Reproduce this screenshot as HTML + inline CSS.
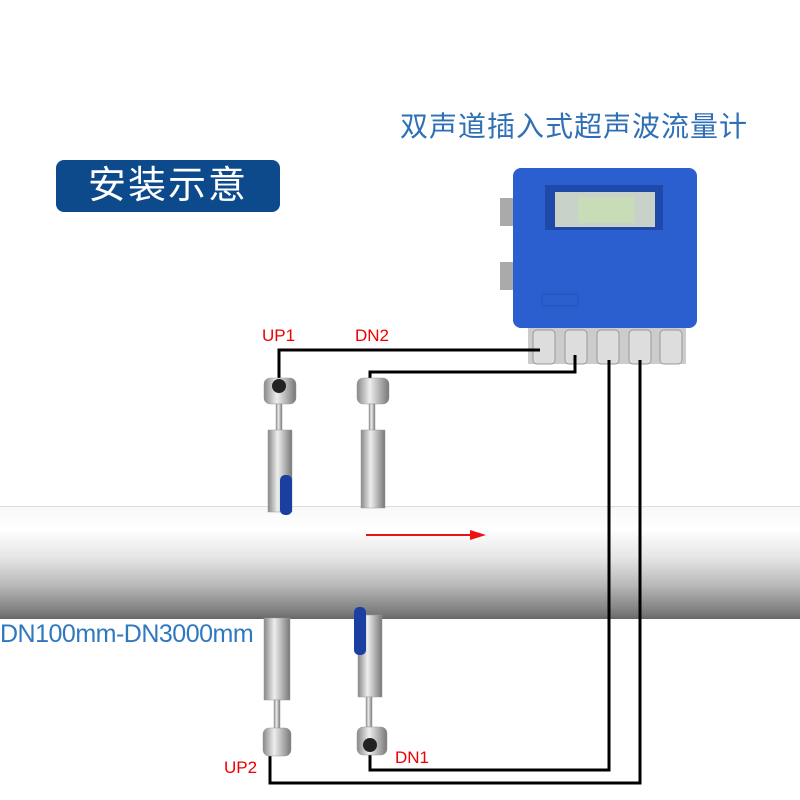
<!DOCTYPE html>
<html><head><meta charset="utf-8"><style>
body{margin:0;width:800px;height:800px;background:#fff;overflow:hidden;position:relative;font-family:"Liberation Sans","Noto Sans CJK SC",sans-serif}
.a{position:absolute}
</style></head><body>
<div class="a" style="left:400px;top:105px;font-size:28px;color:#2f6fb5;letter-spacing:1px">双声道插入式超声波流量计</div>
<div class="a" style="left:56px;top:160px;width:224px;height:52px;background:#0d4a8c;border-radius:8px;color:#fff;font-size:38px;line-height:52px;text-align:center;letter-spacing:2px">安装示意</div>
<div class="a" style="left:0;top:506px;width:800px;height:112px;background:linear-gradient(#f8f8f8 0%,#fff 20%,#e6e6e6 45%,#b8b8b8 70%,#7a7a7a 95%,#666 100%);border-top:1px solid #ddd"></div>
<div class="a" style="left:0;top:620px;font-size:25px;color:#2f78c0;letter-spacing:-0.5px">DN100mm-DN3000mm</div>
<svg class="a" style="left:0;top:0" width="800" height="800">
<defs><linearGradient id="m" x1="0" x2="1"><stop offset="0" stop-color="#888"/><stop offset=".4" stop-color="#eee"/><stop offset="1" stop-color="#777"/></linearGradient></defs>
<line x1="366" y1="535" x2="472" y2="535" stroke="#e11" stroke-width="2"/><polygon points="470,530 486,535 470,540" fill="#e11"/>
<rect x="528" y="322" width="158" height="42" fill="#ccc"/>
<g fill="#ddd" stroke="#999">
<rect x="533" y="330" width="22" height="34" rx="4"/><rect x="565" y="330" width="22" height="34" rx="4"/><rect x="597" y="330" width="22" height="34" rx="4"/><rect x="629" y="330" width="22" height="34" rx="4"/><rect x="660" y="330" width="22" height="34" rx="4"/></g>
<rect x="500" y="198" width="14" height="28" fill="#aaa"/><rect x="500" y="262" width="14" height="28" fill="#aaa"/>
<rect x="513" y="168" width="184" height="160" rx="8" fill="#2b5fd0"/>
<rect x="545" y="185" width="118" height="45" fill="#1e49a8"/>
<rect x="555" y="192" width="100" height="35" fill="#c8d2c8"/><rect x="578" y="197" width="56" height="26" fill="#c9dcb8"/>
<rect x="542" y="294" width="36" height="12" fill="none" stroke="#2050b8"/>
<g fill="none" stroke="#000" stroke-width="3">
<path d="M279 385V350H540"/><path d="M370 385V372H575V355"/><path d="M370 750V770H609V360"/><path d="M270 755V783H640V360"/>
</g>
<g fill="url(#m)" stroke="#999" stroke-width=".5">
<rect x="264" y="378" width="32" height="26" rx="6"/><rect x="276" y="404" width="6" height="28"/><rect x="268" y="430" width="24" height="82"/>
<rect x="357" y="378" width="32" height="26" rx="6"/><rect x="369" y="404" width="6" height="28"/><rect x="361" y="430" width="24" height="78"/>
<rect x="264" y="618" width="26" height="82"/><rect x="274" y="700" width="6" height="30"/><rect x="263" y="728" width="28" height="28" rx="6"/>
<rect x="358" y="615" width="24" height="82"/><rect x="366" y="697" width="6" height="30"/><rect x="357" y="727" width="30" height="28" rx="6"/>
</g>
<circle cx="279" cy="386" r="7" fill="#222"/><circle cx="370" cy="745" r="7" fill="#222"/>
<rect x="280" y="475" width="12" height="40" rx="5" fill="#1a3fa0"/><rect x="354" y="607" width="12" height="48" rx="5" fill="#1a3fa0"/>
</svg>
<div class="a" style="left:262px;top:326px;color:#e00;font-size:17px">UP1</div>
<div class="a" style="left:355px;top:326px;color:#e00;font-size:17px">DN2</div>
<div class="a" style="left:224px;top:758px;color:#e00;font-size:17px">UP2</div>
<div class="a" style="left:395px;top:748px;color:#e00;font-size:17px">DN1</div>
</body></html>
